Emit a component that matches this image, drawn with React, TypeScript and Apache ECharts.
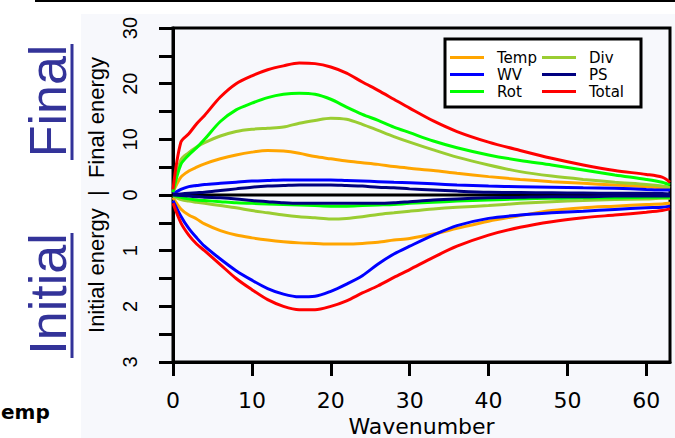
import React, { useEffect, useRef } from 'react';
import * as echarts from 'echarts';

// Zonal wavenumbers at which the energy spectra are sampled
const wavenumbers = [0, 1, 2, 3, 4, 6, 8, 10, 12, 14, 16, 18, 20, 22, 24, 26, 28, 30, 33, 36, 40, 44, 48, 52, 56, 60, 62, 63];

// Final energy (upper panel, 0–30)
const tempFinal = [0.5, 3.2, 4.3, 5.0, 5.6, 6.5, 7.2, 7.7, 8.0, 7.9, 7.5, 6.9, 6.5, 6.1, 5.8, 5.5, 5.1, 4.8, 4.4, 3.9, 3.3, 2.8, 2.4, 2.1, 1.8, 1.5, 1.3, 1.2];
const wvFinal = [0.2, 1.0, 1.5, 1.7, 1.9, 2.1, 2.3, 2.5, 2.6, 2.7, 2.7, 2.7, 2.7, 2.6, 2.5, 2.4, 2.3, 2.2, 2.0, 1.8, 1.6, 1.5, 1.4, 1.3, 1.2, 1.0, 0.9, 0.9];
const rotFinal = [0.5, 5.5, 7.2, 8.5, 10.0, 13.2, 15.3, 16.5, 17.5, 18.1, 18.3, 18.1, 17.2, 15.8, 14.5, 13.4, 12.2, 11.2, 9.7, 8.5, 7.2, 6.2, 5.4, 4.5, 3.6, 2.8, 2.3, 1.8];
const divFinal = [0.5, 6.3, 7.6, 8.6, 9.4, 10.6, 11.4, 11.8, 12.0, 12.2, 12.9, 13.4, 13.8, 13.6, 12.7, 11.6, 10.5, 9.5, 8.1, 6.8, 5.4, 4.2, 3.4, 2.8, 2.3, 1.9, 1.6, 1.3];
const psFinal = [0.1, 0.2, 0.3, 0.4, 0.5, 0.8, 1.1, 1.4, 1.6, 1.7, 1.8, 1.8, 1.8, 1.7, 1.6, 1.4, 1.3, 1.1, 0.9, 0.7, 0.5, 0.45, 0.4, 0.35, 0.3, 0.3, 0.25, 0.2];
const totalFinal = [1.0, 9.5, 11.0, 12.8, 14.3, 17.6, 20.0, 21.4, 22.5, 23.2, 23.7, 23.6, 23.0, 21.9, 20.3, 18.8, 17.2, 15.6, 13.3, 11.4, 9.5, 8.0, 6.6, 5.4, 4.4, 3.7, 3.2, 2.3];

// Initial energy (lower panel, 0–3)
const tempInitial = [0.05, 0.25, 0.36, 0.43, 0.52, 0.64, 0.72, 0.77, 0.81, 0.84, 0.86, 0.87, 0.88, 0.88, 0.87, 0.85, 0.81, 0.78, 0.70, 0.60, 0.47, 0.37, 0.28, 0.23, 0.2, 0.17, 0.16, 0.15];
const wvInitial = [0.1, 0.38, 0.6, 0.77, 0.92, 1.15, 1.36, 1.53, 1.68, 1.78, 1.83, 1.82, 1.73, 1.6, 1.45, 1.24, 1.06, 0.92, 0.72, 0.55, 0.42, 0.36, 0.32, 0.29, 0.26, 0.23, 0.22, 0.2];
const rotInitial = [0.0, 0.04, 0.07, 0.09, 0.1, 0.12, 0.14, 0.15, 0.16, 0.17, 0.18, 0.19, 0.2, 0.2, 0.19, 0.18, 0.17, 0.15, 0.13, 0.11, 0.09, 0.07, 0.06, 0.05, 0.05, 0.04, 0.04, 0.04];
const divInitial = [0.02, 0.08, 0.11, 0.13, 0.15, 0.19, 0.23, 0.28, 0.32, 0.36, 0.39, 0.41, 0.43, 0.42, 0.39, 0.35, 0.32, 0.29, 0.25, 0.22, 0.19, 0.15, 0.12, 0.1, 0.08, 0.07, 0.06, 0.06];
const psInitial = [0, 0.01, 0.02, 0.03, 0.04, 0.05, 0.07, 0.1, 0.12, 0.14, 0.15, 0.15, 0.15, 0.15, 0.15, 0.15, 0.14, 0.12, 0.09, 0.07, 0.05, 0.04, 0.03, 0.03, 0.02, 0.02, 0.02, 0.02];
const totalInitial = [0.15, 0.5, 0.72, 0.88, 1.0, 1.25, 1.5, 1.7, 1.88, 2.0, 2.06, 2.06, 2.0, 1.9, 1.76, 1.63, 1.48, 1.34, 1.12, 0.92, 0.72, 0.58, 0.48, 0.41, 0.36, 0.31, 0.28, 0.25];

// Tick labels on the split energy axis
const finalTickLabels = [0, 10, 20, 30];
const initialTickLabels = [1, 2, 3];
const xTickLabels = [0, 10, 20, 30, 40, 50, 60];

const legendLeft = ['Temp', 'WV', 'Rot'];
const legendRight = ['Div', 'PS', 'Total'];

// The lower half of the axis is stretched 10x and drawn downward
const INITIAL_SCALE = 10;

const components = [
  { name: 'Temp', color: '#ffa500', final: tempFinal, initial: tempInitial },
  { name: 'Div', color: '#9acd32', final: divFinal, initial: divInitial },
  { name: 'WV', color: '#0000ff', final: wvFinal, initial: wvInitial },
  { name: 'Rot', color: '#00ff00', final: rotFinal, initial: rotInitial },
  { name: 'PS', color: '#000080', final: psFinal, initial: psInitial },
  { name: 'Total', color: '#ff0000', final: totalFinal, initial: totalInitial },
];

const TITLE_BLUE = '#333399';

export default function App() {
  const ref = useRef<HTMLDivElement>(null);

  useEffect(() => {
    if (!ref.current) return;
    const chart = echarts.init(ref.current, undefined, { renderer: 'svg' });

    const lineSeries: any[] = [];
    // zero line separating final (up) and initial (down)
    lineSeries.push({
      type: 'line',
      name: 'zero',
      symbol: 'none',
      silent: true,
      data: [[wavenumbers[0], 0], [wavenumbers[wavenumbers.length - 1], 0]],
      lineStyle: { color: '#000', width: 3 },
    });
    components.forEach((c) => {
      lineSeries.push({
        type: 'line',
        name: c.name,
        symbol: 'none',
        smooth: 0.3,
        color: c.color,
        lineStyle: { color: c.color, width: 3 },
        data: wavenumbers.map((w, i) => [w, c.final[i]]),
      });
      lineSeries.push({
        type: 'line',
        name: c.name,
        symbol: 'none',
        smooth: 0.3,
        color: c.color,
        lineStyle: { color: c.color, width: 3 },
        data: wavenumbers.map((w, i) => [w, -c.initial[i] * INITIAL_SCALE]),
      });
    });

    const legendCommon = {
      orient: 'vertical',
      icon: 'rect',
      itemWidth: 34,
      itemHeight: 3,
      itemGap: 0,
      padding: 0,
      selectedMode: false,
      textStyle: {
        fontFamily: 'DejaVu Sans',
        fontSize: 15,
        color: '#000',
        lineHeight: 17,
        padding: [0, 0, 0, 8],
      },
    };

    chart.setOption({
      animation: false,
      grid: {
        left: 173,
        right: 5,
        top: 28,
        bottom: 76,
        outerBoundsMode: 'none',
        containLabel: false,
        show: true,
        borderColor: '#000',
        borderWidth: 3,
        backgroundColor: 'transparent',
      },
      legend: [
        { ...legendCommon, data: legendLeft, left: 450, top: 49 },
        { ...legendCommon, data: legendRight, left: 542, top: 49 },
      ],
      xAxis: {
        type: 'value',
        min: 0,
        max: 63,
        interval: 10,
        name: 'Wavenumber',
        nameLocation: 'middle',
        nameGap: 50,
        nameTextStyle: { fontFamily: 'DejaVu Sans', fontSize: 22, color: '#000' },
        axisLine: { onZero: false, lineStyle: { color: '#000', width: 3 } },
        axisTick: { length: 14, lineStyle: { color: '#000', width: 3 } },
        axisLabel: {
          margin: 27,
          showMaxLabel: false,
          fontFamily: 'DejaVu Sans',
          fontSize: 22,
          color: '#000',
          formatter: (v: number) => (xTickLabels.includes(v) ? String(v) : ''),
        },
        splitLine: { show: false },
      },
      yAxis: {
        type: 'value',
        min: -30,
        max: 30,
        interval: 5,
        name: 'Initial energy  |  Final energy',
        nameLocation: 'middle',
        nameRotate: 90,
        nameGap: 66,
        nameTextStyle: { fontFamily: 'Liberation Sans', fontSize: 22, color: '#000' },
        axisLine: { onZero: false, lineStyle: { color: '#000', width: 3 } },
        axisTick: { length: 14, lineStyle: { color: '#000', width: 3 } },
        axisLabel: {
          rotate: 90,
          margin: 33,
          fontFamily: 'Liberation Sans',
          fontSize: 20,
          color: '#000',
          formatter: (v: number) => {
            if (v >= 0) return finalTickLabels.includes(v) ? String(v) : '';
            const e = -v / INITIAL_SCALE;
            return initialTickLabels.includes(e) ? String(e) : '';
          },
        },
        splitLine: { show: false },
      },
      series: lineSeries,
      graphic: [
        {
          type: 'rect',
          z: -10,
          silent: true,
          shape: { x: 81, y: 14, width: 594, height: 424 },
          style: { fill: '#f7f8fc' },
        },
        {
          type: 'line',
          silent: true,
          shape: { x1: 35, y1: 1, x2: 675, y2: 1 },
          style: { stroke: '#000', lineWidth: 2 },
        },
        {
          type: 'rect',
          z: 3,
          silent: true,
          shape: { x: 445, y: 39, width: 196, height: 68 },
          style: { fill: '#ffffff', stroke: '#000', lineWidth: 3 },
        },
        {
          type: 'text',
          silent: true,
          x: 48,
          y: 101,
          rotation: Math.PI / 2,
          style: {
            text: 'Final',
            font: '52px "Liberation Sans"',
            fill: TITLE_BLUE,
            align: 'center',
            verticalAlign: 'middle',
            textAlign: 'center',
            textVerticalAlign: 'middle',
          },
        },
        {
          type: 'line',
          silent: true,
          shape: { x1: 72, y1: 44, x2: 72, y2: 160 },
          style: { stroke: TITLE_BLUE, lineWidth: 3 },
        },
        {
          type: 'text',
          silent: true,
          x: 48,
          y: 294,
          rotation: Math.PI / 2,
          style: {
            text: 'Initial',
            font: '52px "Liberation Sans"',
            fill: TITLE_BLUE,
            align: 'center',
            verticalAlign: 'middle',
            textAlign: 'center',
            textVerticalAlign: 'middle',
          },
        },
        {
          type: 'line',
          silent: true,
          shape: { x1: 72, y1: 233, x2: 72, y2: 358 },
          style: { stroke: TITLE_BLUE, lineWidth: 3 },
        },
        {
          type: 'text',
          silent: true,
          x: 1,
          y: 412,
          style: {
            text: 'emp',
            font: 'bold 20px "DejaVu Sans"',
            fill: '#000',
            align: 'left',
            verticalAlign: 'middle',
            textAlign: 'left',
            textVerticalAlign: 'middle',
          },
        },
      ],
    });

    return () => chart.dispose();
  }, []);

  return (
    <div
      ref={ref}
      style={{ position: 'absolute', left: 0, top: 0, width: 675, height: 438, background: '#fff' }}
    />
  );
}
